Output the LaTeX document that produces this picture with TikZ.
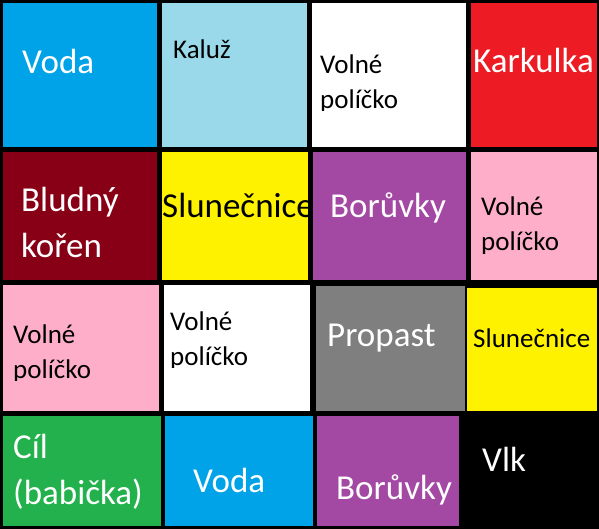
\documentclass[tikz,border=0pt]{standalone}
\usepackage{fontspec}
\setmainfont{Carlito}
\definecolor{cBlue}{HTML}{00A2E8}
\definecolor{cLight}{HTML}{99D9EA}
\definecolor{cRed}{HTML}{ED1C24}
\definecolor{cDark}{HTML}{880015}
\definecolor{cYellow}{HTML}{FFF200}
\definecolor{cPurple}{HTML}{A349A4}
\definecolor{cPink}{HTML}{FFAEC9}
\definecolor{cGray}{HTML}{7F7F7F}
\definecolor{cGreen}{HTML}{22B14C}
\tikzset{
  bigtext/.style={font=\fontsize{35}{46}\selectfont, anchor=base west, inner sep=0pt, align=left},
  smalltext/.style={font=\fontsize{27}{35}\selectfont, anchor=base west, inner sep=0pt, align=left},
  onwhite/.style={text=white},
  onblack/.style={text=black}
}
\begin{document}
\begin{tikzpicture}[x=1pt,y=-1pt]
\useasboundingbox (0,0) rectangle (599,529);
\fill[black] (0,0) rectangle (599,529);
% row 1
\fill[cBlue]   (3,3) rectangle (157,147);
\fill[cLight]  (162,3) rectangle (307,147);
\fill[white]   (312,3) rectangle (466,147);
\fill[cRed]    (471,3) rectangle (597,147);
% row 2
\fill[cDark]   (3,152) rectangle (157,280);
\fill[cYellow] (162,152) rectangle (308,280);
\fill[cPurple] (313,152) rectangle (466,280);
\fill[cPink]   (471,152) rectangle (597,280);
% row 3
\fill[cPink]   (3,285) rectangle (159,411);
\fill[white]   (164,285) rectangle (310,411);
\fill[cGray]   (316,286) rectangle (465,411);
\fill[cYellow] (467,288) rectangle (597,411);
% row 4
\fill[cGreen]  (3,416) rectangle (161,526);
\fill[cBlue]   (165,416) rectangle (313,526);
\fill[cPurple] (317,416) rectangle (459,526);
% texts
\node[bigtext,onwhite]   (t1)  at (22,74)   {Voda};
\node[smalltext,onblack] (t2)  at (173,59)  {Kaluž};
\begin{scope}
  \clip (312,3) rectangle (466,111);
  \node[smalltext,onblack] (t3)  at (320,109) {Volné\\políčko};
\end{scope}
\node[bigtext,onwhite]   (t4)  at (473,73)  {Karkulka};
\node[bigtext,onwhite]   (t5)  at (21,258)  {Bludný\\kořen};
\node[bigtext,onblack]   (t6)  at (162,218) {Slunečnice};
\node[bigtext,onwhite]   (t7)  at (330,218) {Borůvky};
\begin{scope}
  \clip (471,152) rectangle (597,253);
  \node[smalltext,onblack] (t8)  at (481,251) {Volné\\políčko};
\end{scope}
\begin{scope}
  \clip (3,285) rectangle (159,380);
  \node[smalltext,onblack] (t9)  at (13,378)  {Volné\\políčko};
\end{scope}
\begin{scope}
  \clip (164,285) rectangle (310,367);
  \node[smalltext,onblack] (t10) at (170,365) {Volné\\políčko};
\end{scope}
\node[bigtext,onwhite]   (t11) at (327,346) {Propast};
\node[smalltext,onblack] (t12) at (473,347) {Slunečnice};
\node[bigtext,onwhite]   (t13) at (13,504)  {Cíl\\(babička)};
\node[bigtext,onwhite]   (t14) at (193,492) {Voda};
\node[bigtext,onwhite]   (t15) at (336,499) {Borůvky};
\node[bigtext,onwhite]   (t16) at (482,471) {Vlk};
\end{tikzpicture}
\end{document}
